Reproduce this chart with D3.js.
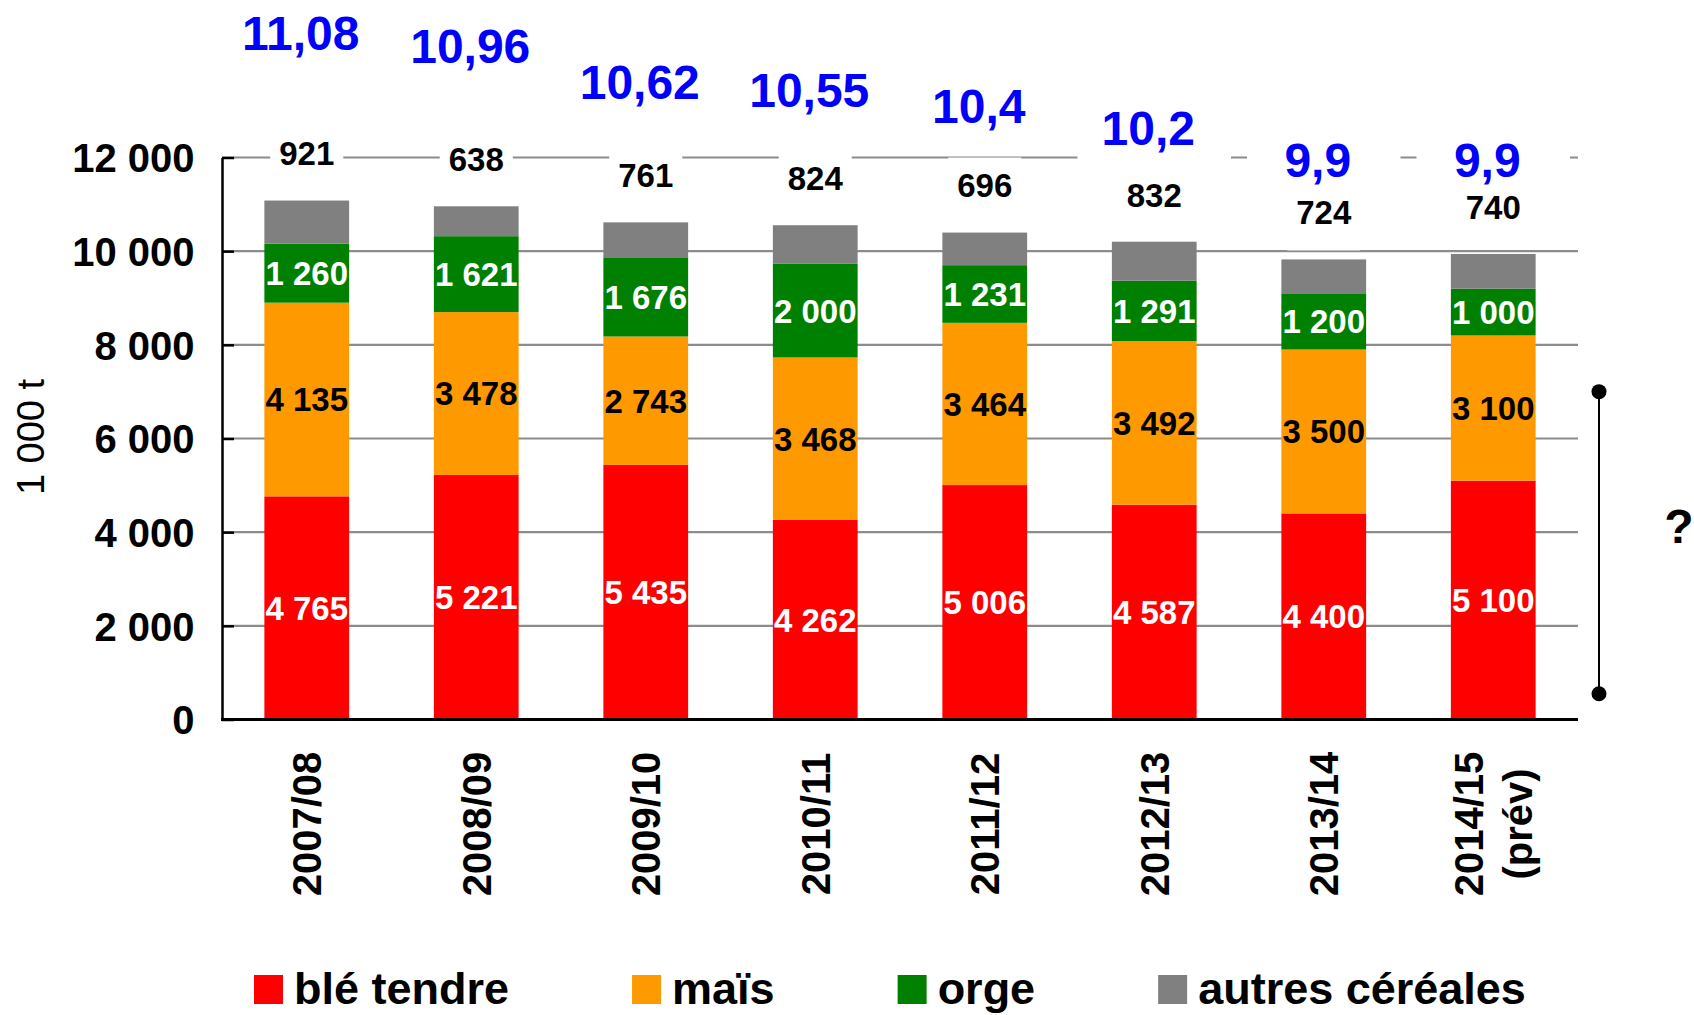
<!DOCTYPE html>
<html>
<head>
<meta charset="utf-8">
<script src="https://cdn.jsdelivr.net/npm/d3@7"></script>
<style>
  html, body { margin: 0; padding: 0; background: #fff; }
  svg { display: block; font-family: "Liberation Sans", Arial, sans-serif; }
</style>
</head>
<body>
<svg id="chart" width="1694" height="1015"></svg>
<script>
// Campagnes (the last one is a forecast, shown on two lines)
const categories = ["2007/08", "2008/09", "2009/10", "2010/11", "2011/12", "2012/13", "2013/14", "2014/15\n(prév)"];

// Production by cereal, in 1 000 t
const bleTendre = [4765, 5221, 5435, 4262, 5006, 4587, 4400, 5100];
const mais      = [4135, 3478, 2743, 3468, 3464, 3492, 3500, 3100];
const orge      = [1260, 1621, 1676, 2000, 1231, 1291, 1200, 1000];
const autres    = [921, 638, 761, 824, 696, 832, 724, 740];

// Overall total per campaign, in million t
const totauxMt = [11.08, 10.96, 10.62, 10.55, 10.4, 10.2, 9.9, 9.9];

// Axis ticks and the uncertainty range drawn at the right
const yTicks = [0, 2000, 4000, 6000, 8000, 10000, 12000];
const fourchette = [550, 7000];

const seriesNames = ["blé tendre", "maïs", "orge", "autres céréales"];
const seriesColors = ["#ff0000", "#ff9900", "#008000", "#808080"];
const labelColors = ["#ffffff", "#000000", "#ffffff", null];

const fr = d3.formatLocale({ decimal: ",", thousands: " ", grouping: [3], currency: ["", " €"] });
const fmtInt = fr.format(",d");
const fmtTot = fr.format(".2~f");

const svg = d3.select("#chart");
const plotLeft = 222, plotRight = 1578, plotTop = 157.5, plotBottom = 719.5;

const x = d3.scaleBand().domain(categories).range([plotLeft, plotRight])
  .paddingInner(0.5).paddingOuter(0.25);
const y = d3.scaleLinear().domain([0, 12000]).range([plotBottom, plotTop]);
// secondary scale carrying the totals line (labels only)
const yTot = d3.scaleLinear().domain([9.9, 11.08]).range([160, 32.5]);

// table for the stack
const rows = categories.map((c, i) => ({
  cat: c, s0: bleTendre[i], s1: mais[i], s2: orge[i], s3: autres[i]
}));
const stacked = d3.stack().keys(["s0", "s1", "s2", "s3"])(rows);

// gridlines
svg.append("g").selectAll("line")
  .data(yTicks.filter(t => t > 0))
  .join("line")
  .attr("x1", plotLeft).attr("x2", plotRight)
  .attr("y1", d => y(d)).attr("y2", d => y(d))
  .attr("stroke", "#8c8c8c").attr("stroke-width", 2.2);

// stacked bars
const layers = svg.append("g").selectAll("g")
  .data(stacked)
  .join("g")
  .attr("fill", (d, i) => seriesColors[i]);
layers.selectAll("rect")
  .data(d => d)
  .join("rect")
  .attr("x", d => x(d.data.cat))
  .attr("width", x.bandwidth())
  .attr("y", d => y(d[1]))
  .attr("height", d => y(d[0]) - y(d[1]));

// white boxes behind the labels above the bars
const fsSmall = 33, fsTot = 48;
const autresLabelY = i => y(stacked[3][i][1]) - 47;
const boxes = svg.append("g").attr("fill", "#fff");
boxes.selectAll("rect.tot")
  .data(totauxMt)
  .join("rect").attr("class", "tot")
  .attr("x", (d, i) => x(categories[i]) + x.bandwidth() / 2 - x.step() / 2 + 8)
  .attr("width", x.step() - 16)
  .attr("y", d => yTot(d) - 35)
  .attr("height", 70);

// y axis (ticks inside)
const yAxis = svg.append("g")
  .attr("transform", `translate(${plotLeft},0)`)
  .call(d3.axisLeft(y).tickValues(yTicks).tickFormat(fmtInt)
    .tickSize(-12).tickSizeOuter(0).tickPadding(27.5));
yAxis.select(".domain").attr("stroke", "#000").attr("stroke-width", 2.5);
yAxis.selectAll(".tick line").attr("stroke", "#000").attr("stroke-width", 2.5);
yAxis.selectAll(".tick text")
  .attr("font-family", "Liberation Sans, Arial, sans-serif")
  .attr("font-size", 40).attr("font-weight", "bold").attr("fill", "#000")
  .attr("dy", "0.36em");

// x axis baseline
svg.append("line")
  .attr("x1", plotLeft - 1).attr("x2", plotRight)
  .attr("y1", y(0)).attr("y2", y(0))
  .attr("stroke", "#000").attr("stroke-width", 3);

// values inside the segments
[0, 1, 2].forEach(k => {
  svg.append("g").selectAll("text")
    .data(stacked[k])
    .join("text")
    .attr("x", d => x(d.data.cat) + x.bandwidth() / 2)
    .attr("y", d => (y(d[0]) + y(d[1])) / 2)
    .attr("dy", "0.36em")
    .attr("text-anchor", "middle")
    .attr("font-size", fsSmall).attr("font-weight", "bold")
    .attr("fill", labelColors[k])
    .text(d => fmtInt(d.data["s" + k]));
});

// "autres céréales" values above the bars, on white boxes
const autresG = svg.append("g");
autresG.selectAll("text")
  .data(autres)
  .join("text")
  .attr("x", (d, i) => x(categories[i]) + x.bandwidth() / 2)
  .attr("y", (d, i) => autresLabelY(i))
  .attr("dy", "0.36em")
  .attr("text-anchor", "middle")
  .attr("font-size", fsSmall).attr("font-weight", "bold")
  .attr("fill", "#000")
  .text(d => fmtInt(d))
  .each(function (d, i) {
    const w = this.getComputedTextLength();
    boxes.append("rect")
      .attr("x", x(categories[i]) + x.bandwidth() / 2 - w / 2 - 9)
      .attr("width", w + 18)
      .attr("y", autresLabelY(i) - 28)
      .attr("height", 66);
  });

// totals in million t
svg.append("g").selectAll("text")
  .data(totauxMt)
  .join("text")
  .attr("x", (d, i) => x(categories[i]) + x.bandwidth() / 2 - 6)
  .attr("y", d => yTot(d))
  .attr("dy", "0.36em")
  .attr("text-anchor", "middle")
  .attr("font-size", fsTot).attr("font-weight", "bold")
  .attr("fill", "#0000ff")
  .text(d => fmtTot(d));

// category labels, rotated
const catG = svg.append("g");
categories.forEach(c => {
  const lines = c.split("\n");
  const cx = x(c) + x.bandwidth() / 2;
  const lh = 49.6;
  const t = catG.append("text")
    .attr("transform", `translate(${cx},824) rotate(-90)`)
    .attr("text-anchor", "middle")
    .attr("font-size", 40).attr("font-weight", "bold").attr("fill", "#000");
  lines.forEach((ln, j) => {
    t.append("tspan")
      .attr("x", 0)
      .attr("y", (j - (lines.length - 1) / 2) * lh + 14.3)
      .text(ln);
  });
});

// y axis title
svg.append("text")
  .attr("transform", `translate(30,437) rotate(-90)`)
  .attr("text-anchor", "middle")
  .attr("dy", "0.36em")
  .attr("font-size", 38).attr("fill", "#000")
  .text("1 000 t");

// uncertainty range for the forecast
const bx = 1599;
const br = svg.append("g");
br.append("line")
  .attr("x1", bx).attr("x2", bx)
  .attr("y1", y(fourchette[0])).attr("y2", y(fourchette[1]))
  .attr("stroke", "#000").attr("stroke-width", 2);
br.selectAll("circle")
  .data(fourchette)
  .join("circle")
  .attr("cx", bx).attr("cy", d => y(d)).attr("r", 7.5)
  .attr("fill", "#000");
br.append("text")
  .attr("x", 1679).attr("y", (y(fourchette[0]) + y(fourchette[1])) / 2 - 17)
  .attr("dy", "0.36em")
  .attr("text-anchor", "middle")
  .attr("font-size", 48).attr("font-weight", "bold").attr("fill", "#000")
  .text("?");

// legend
const legend = svg.append("g");
let lx = 254;
seriesNames.forEach((name, i) => {
  legend.append("rect")
    .attr("x", lx).attr("y", 975).attr("width", 29).attr("height", 29)
    .attr("fill", seriesColors[i]);
  const t = legend.append("text")
    .attr("x", lx + 40).attr("y", 988).attr("dy", "0.36em")
    .attr("font-size", 45).attr("font-weight", "bold").attr("fill", "#000")
    .text(name);
  lx += 40 + t.node().getComputedTextLength() + 123;
});
</script>
</body>
</html>
